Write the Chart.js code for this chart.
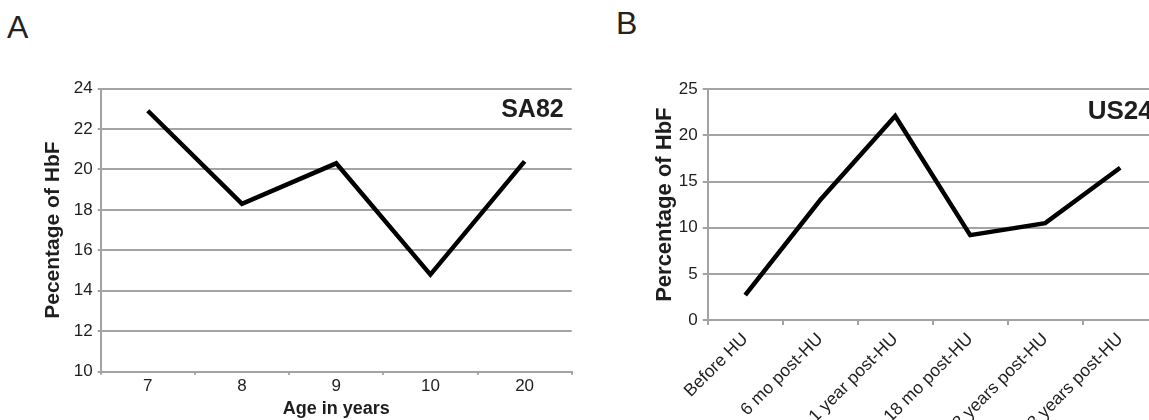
<!DOCTYPE html>
<html>
<head>
<meta charset="utf-8">
<title>HbF percentage over time</title>
<script src="https://cdn.jsdelivr.net/npm/chart.js@4/dist/chart.umd.min.js"></script>
<style>
  html, body { margin: 0; padding: 0; background: #fff; }
  body { width: 1149px; height: 420px; overflow: hidden; position: relative;
         font-family: "Liberation Sans", Arial, sans-serif; }
  canvas { position: absolute; top: 0; }
  #chartA { left: 0; }
  #chartB { left: 580px; }
  .panel { position: absolute; font-size: 32px; line-height: 32px; color: #222; }
  #panelA { left: 7px; top: 11px; }
  #panelB { left: 616px; top: 7px; }
</style>
</head>
<body>
<div class="panel" id="panelA">A</div>
<div class="panel" id="panelB">B</div>
<canvas id="chartA" width="580" height="420"></canvas>
<canvas id="chartB" width="620" height="420"></canvas>
<script>
// Panel A: HbF by age for patient SA82
const ageLabels = ['7', '8', '9', '10', '20'];
const hbfByAge = [22.9, 18.3, 20.3, 14.8, 20.4];
const ageAxisRange = [10, 24, 2];   // min, max, step

// Panel B: HbF before and after hydroxyurea for patient US24
const huLabels = ['Before HU', '6 mo post-HU', '1 year post-HU', '18 mo post-HU', '2 years post-HU', '3 years post-HU'];
const hbfByHu = [2.7, 13.0, 22.1, 9.2, 10.5, 16.5];
const huAxisRange = [0, 25, 5];

const FONT = '"Liberation Sans", Arial, sans-serif';
const GRID = '#a3a3a3';
const TEXT = '#1e1e1e';

// Bold patient tag in the upper-right corner of the plot area
const patientTag = {
  id: 'patientTag',
  afterDatasetsDraw(chart, args, opts) {
    const {ctx, chartArea} = chart;
    ctx.save();
    ctx.font = 'bold ' + opts.size + 'px ' + FONT;
    ctx.fillStyle = TEXT;
    ctx.textAlign = 'right';
    ctx.textBaseline = 'middle';
    ctx.fillText(opts.text, chartArea.right - opts.inset, chartArea.top + opts.dy);
    ctx.restore();
  }
};

function lineChart(canvasId, labels, values, range, cfg) {
  return new Chart(document.getElementById(canvasId), {
    type: 'line',
    data: {
      labels: labels,
      datasets: [{
        data: values,
        borderColor: '#000',
        borderWidth: 4.5,
        borderJoinStyle: 'miter',
        pointRadius: 0,
        tension: 0,
        fill: false
      }]
    },
    plugins: [patientTag],
    options: {
      responsive: false,
      animation: false,
      devicePixelRatio: 1,
      layout: { padding: cfg.padding },
      plugins: {
        legend: { display: false },
        tooltip: { enabled: false },
        patientTag: cfg.tag
      },
      scales: {
        x: {
          type: 'category',
          offset: true,
          grid: { drawOnChartArea: false, color: GRID, lineWidth: 2, tickLength: cfg.xTick, offset: true },
          border: { color: GRID, width: 2 },
          ticks: {
            color: TEXT, font: { family: FONT, size: cfg.xFont }, padding: cfg.xPad,
            autoSkip: false, minRotation: cfg.rot, maxRotation: cfg.rot
          },
          title: cfg.xTitle ? {
            display: true, text: cfg.xTitle, color: TEXT,
            font: { family: FONT, size: 18, weight: 'bold' }, padding: { top: 0, bottom: 0 }
          } : { display: false },
          afterFit(scale) { scale.height = cfg.xHeight; }
        },
        y: {
          min: range[0], max: range[1],
          grid: { color: GRID, lineWidth: 2, tickLength: cfg.yTick },
          border: { color: GRID, width: 2 },
          ticks: { stepSize: range[2], color: TEXT, font: { family: FONT, size: 17 }, padding: 5 },
          title: {
            display: true, text: cfg.yTitle, color: TEXT,
            font: { family: FONT, size: cfg.yTitleSize, weight: 'bold' }, padding: { top: cfg.yTitlePad, bottom: 0 }
          },
          afterFit(scale) { scale.width = cfg.yWidth; }
        }
      }
    }
  });
}

lineChart('chartA', ageLabels, hbfByAge, ageAxisRange, {
  padding: { top: 88.5, right: 8.3, bottom: 0, left: 0 },
  yWidth: 100.7, xHeight: 48.3, xTick: 3, yTick: 3, xPad: 1, rot: 0, xFont: 17,
  xTitle: 'Age in years', yTitle: 'Pecentage of HbF', yTitlePad: 41, yTitleSize: 21,
  tag: { text: 'SA82', size: 25, inset: 8, dy: 22 }
});

lineChart('chartB', huLabels, hbfByHu, huAxisRange, {
  padding: { top: 89.3, right: 42.3, bottom: 0, left: 0 },
  yWidth: 127.7, xHeight: 100, xTick: 5, yTick: 5, xPad: 4, rot: 45, xFont: 17.5,
  xTitle: null, yTitle: 'Percentage of HbF', yTitlePad: 72, yTitleSize: 22,
  tag: { text: 'US24', size: 26, inset: 5, dy: 23 }
});
</script>
</body>
</html>
